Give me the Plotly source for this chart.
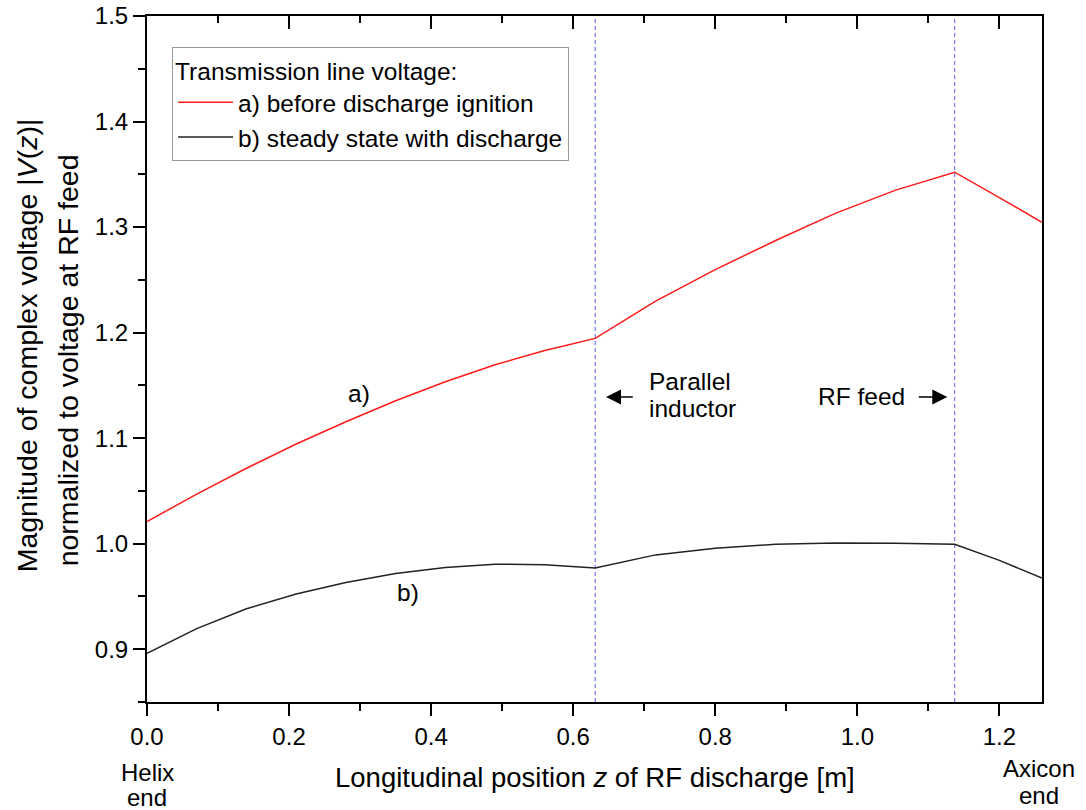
import plotly.graph_objects as go

# Longitudinal position z [m] and normalized |V(z)| for both cases
z_a = [0.0, 0.07, 0.14, 0.21, 0.28, 0.35, 0.42, 0.49, 0.56, 0.631,
       0.716, 0.80, 0.885, 0.969, 1.054, 1.137, 1.20, 1.26]
v_a = [1.021, 1.047, 1.0715, 1.0945, 1.1155, 1.1355, 1.1535, 1.1695, 1.1830, 1.1945,
       1.2299, 1.2597, 1.2873, 1.3130, 1.3350, 1.3520, 1.3280, 1.3045]

z_b = [0.0, 0.07, 0.14, 0.21, 0.28, 0.35, 0.42, 0.49, 0.56, 0.631,
       0.716, 0.80, 0.885, 0.969, 1.054, 1.137, 1.20, 1.26]
v_b = [0.8962, 0.9195, 0.9383, 0.9524, 0.9633, 0.9718, 0.9774, 0.9806, 0.9800, 0.9770,
       0.9894, 0.9957, 0.9994, 1.0007, 1.0004, 0.9995, 0.9842, 0.9675]

# Positions of the parallel inductor and the RF feed along the line
inductor_z = 0.631
feed_z = 1.137

x_ticks = [0.0, 0.2, 0.4, 0.6, 0.8, 1.0, 1.2]
y_ticks = [0.9, 1.0, 1.1, 1.2, 1.3, 1.4, 1.5]

FONT = "Liberation Sans, Arial, sans-serif"
FS_TICK = 24
FS_LEG = 24.5
FS_ANN = 24.5
FS_XT = 27.5
FS_YT = 28.5

fig = go.Figure()
fig.add_trace(go.Scatter(x=z_a, y=v_a, mode="lines", name="a) before discharge ignition",
                         line=dict(color="#ff1a1a", width=1.5)))
fig.add_trace(go.Scatter(x=z_b, y=v_b, mode="lines", name="b) steady state with discharge",
                         line=dict(color="#222222", width=1.5)))
# carrier for the top axis with inward ticks
fig.add_trace(go.Scatter(x=[None], y=[None], xaxis="x2", showlegend=False, hoverinfo="skip"))

for zz in (inductor_z, feed_z):
    fig.add_shape(type="line", x0=zz, x1=zz, y0=0, y1=1, xref="x", yref="paper",
                  line=dict(color="#8080ff", width=1.3, dash="4px,3px"), layer="below")


def label(x, y, text, size, xref="x", yref="y", xanchor="center", **kw):
    return dict(x=x, y=y, text=text, showarrow=False, xref=xref, yref=yref,
                xanchor=xanchor, yanchor="middle", font=dict(size=size), **kw)


ann = [
    label(0.298, 1.142, "a)", FS_ANN),
    label(0.367, 0.954, "b)", FS_ANN),
    label(0.7044, 1.154, "Parallel", FS_ANN, xanchor="left"),
    label(0.7044, 1.128, "inductor", FS_ANN, xanchor="left"),
    label(1.0056, 1.139, "RF feed", FS_ANN),
    # axis titles and end labels
    label(0.5006, -0.1098, "Longitudinal position <i>z</i> of RF discharge [m]", FS_XT,
          xref="paper", yref="paper"),
    label(0.0, -0.1025, "Helix", FS_TICK, xref="paper", yref="paper"),
    label(0.0, -0.1389, "end", FS_TICK, xref="paper", yref="paper"),
    label(0.9966, -0.0966, "Axicon", FS_TICK, xref="paper", yref="paper"),
    label(0.9966, -0.1360, "end", FS_TICK, xref="paper", yref="paper"),
    label(-0.134, 0.520, "Magnitude of complex voltage |<i>V</i>(<i>z</i>)|", FS_YT,
          xref="paper", yref="paper", textangle=-90),
    label(-0.0883, 0.498, "normalized to voltage at RF feed", FS_YT,
          xref="paper", yref="paper", textangle=-90),
]
# arrows toward the dashed markers
for head, tail in ((0.6462, 0.686), (1.1267, 1.0844)):
    ann.append(dict(x=head, y=1.139, ax=tail, ay=1.139, axref="x", ayref="y",
                    xref="x", yref="y", text="", showarrow=True, arrowhead=2,
                    arrowsize=2, arrowwidth=1.5, arrowcolor="black"))

fig.update_layout(
    width=1086, height=810,
    margin=dict(l=147, r=44, t=16, b=108, autoexpand=False),
    paper_bgcolor="white", plot_bgcolor="white",
    font=dict(family=FONT, size=FS_TICK, color="black"),
    annotations=ann,
    legend=dict(
        title=dict(text="Transmission line voltage:", font=dict(size=FS_LEG)),
        x=0.028, y=0.955, xanchor="left", yanchor="top",
        bordercolor="#999999", borderwidth=1, bgcolor="white",
        font=dict(size=FS_LEG), itemwidth=55, tracegroupgap=0,
    ),
    xaxis=dict(
        range=[0, 1.26], tickvals=x_ticks, ticktext=[f"{v:.1f}" for v in x_ticks],
        ticks="outside", ticklen=12, tickwidth=2, tickcolor="black",
        minor=dict(dtick=0.1, tick0=0, ticks="outside", ticklen=7, tickwidth=2, tickcolor="black"),
        showline=True, linewidth=2, linecolor="black", mirror=True,
        showgrid=False, zeroline=False, ticklabelstandoff=0, automargin=False,
        tickfont=dict(size=FS_TICK),
    ),
    xaxis2=dict(
        overlaying="x", side="top", anchor="y", range=[0, 1.26],
        tickvals=x_ticks, showticklabels=False, automargin=False,
        ticks="inside", ticklen=13, tickwidth=2, tickcolor="black",
        minor=dict(dtick=0.1, tick0=0, ticks="inside", ticklen=7, tickwidth=2, tickcolor="black"),
        showline=False, showgrid=False, zeroline=False,
    ),
    yaxis=dict(
        range=[0.85, 1.5], tickvals=y_ticks, ticktext=[f"{v:.1f}" for v in y_ticks],
        ticks="outside", ticklen=12, tickwidth=2, tickcolor="black",
        minor=dict(dtick=0.05, tick0=0.85, ticks="outside", ticklen=7, tickwidth=2, tickcolor="black"),
        showline=True, linewidth=2, linecolor="black", mirror=True,
        showgrid=False, zeroline=False, ticklabelstandoff=0, automargin=False,
        tickfont=dict(size=FS_TICK),
    ),
)

fig.write_html("out.html")
